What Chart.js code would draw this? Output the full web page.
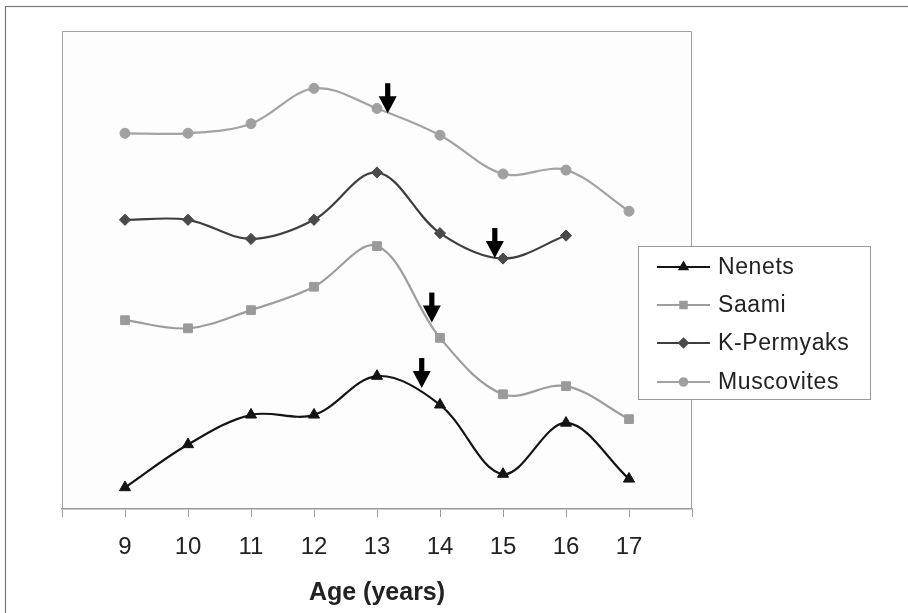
<!DOCTYPE html>
<html>
<head>
<meta charset="utf-8">
<script src="https://cdn.jsdelivr.net/npm/chart.js@4/dist/chart.umd.min.js"></script>
<style>
  html, body { margin: 0; padding: 0; background: #fff; }
  #c { display: block; }
</style>
</head>
<body>
<canvas id="c" width="908" height="613"></canvas>
<script>
// Ages on the horizontal axis
const ages = [9, 10, 11, 12, 13, 14, 15, 16, 17];
// Group curves (relative units, no vertical scale shown)
const nenets     = [4.5, 13.5, 19.7, 19.7, 27.8, 21.8, 7.3, 18.0, 6.3];
const saami      = [39.5, 37.8, 41.6, 46.5, 55.0, 35.8, 24.0, 25.7, 18.8];
const kPermyaks  = [60.5, 60.5, 56.5, 60.5, 70.4, 57.7, 52.4, 57.2, null];
const muscovites = [78.6, 78.6, 80.6, 88.0, 83.8, 78.2, 70.1, 70.9, 62.3];
const seriesNames = ['Nenets', 'Saami', 'K-Permyaks', 'Muscovites'];
// Down arrows: age where each arrow points, and the curve value at its tip
const arrowAges = [13.71, 13.87, 14.87, 13.17];
const arrowTips = [25.3, 39.0, 52.5, 82.8];
// Axis range
const ageMin = 8, ageMax = 18;
const valueMin = 0, valueMax = 100;

const FONT = "'Liberation Sans', Arial, sans-serif";

const styles = [
  { line: '#141414', point: '#141414', shape: 'triangle', r: 6.4, lr: 4.6 },
  { line: '#9d9d9d', point: '#9a9a9a', shape: 'rect',     r: 6.2, lr: 4.6 },
  { line: '#3e3e3e', point: '#4a4a4a', shape: 'rectRot',  r: 5.6, lr: 4.4 },
  { line: '#a3a3a3', point: '#a0a0a0', shape: 'circle',   r: 5.0, lr: 3.8 }
];
const seriesValues = [nenets, saami, kPermyaks, muscovites];

const datasets = seriesValues.map((vals, i) => ({
  label: seriesNames[i],
  data: ages.map((a, k) => ({ x: a, y: vals[k] })).filter(p => p.y !== null),
  borderColor: styles[i].line,
  backgroundColor: styles[i].point,
  pointBackgroundColor: styles[i].point,
  pointBorderColor: styles[i].point,
  pointStyle: styles[i].shape,
  pointRadius: styles[i].r,
  pointBorderWidth: 1,
  borderWidth: 2.2,
  tension: 0.35,
  fill: false
}));

// Page frame and plot area
const framePlugin = {
  id: 'frame',
  beforeDraw(chart) {
    const { ctx, chartArea: a } = chart;
    ctx.save();
    ctx.fillStyle = '#ffffff';
    ctx.fillRect(0, 0, chart.width, chart.height);
    ctx.strokeStyle = '#7a7a7a';
    ctx.lineWidth = 1.2;
    ctx.strokeRect(5.5, 6.5, chart.width + 20, chart.height + 20);
    ctx.fillStyle = '#fdfdfd';
    ctx.fillRect(a.left, a.top, a.right - a.left, a.bottom - a.top);
    ctx.restore();
  },
  beforeDatasetsDraw(chart) {
    const { ctx, chartArea: a } = chart;
    ctx.save();
    ctx.strokeStyle = '#a0a0a0';
    ctx.lineWidth = 1;
    ctx.beginPath();
    ctx.moveTo(a.left + 0.5, a.bottom);
    ctx.lineTo(a.left + 0.5, a.top + 0.5);
    ctx.lineTo(a.right - 0.5, a.top + 0.5);
    ctx.lineTo(a.right - 0.5, a.bottom);
    ctx.stroke();
    ctx.restore();
  }
};

// Black down arrows marking points on the curves
const arrowPlugin = {
  id: 'arrows',
  afterDatasetsDraw(chart) {
    const { ctx, scales: { x, y } } = chart;
    ctx.save();
    ctx.fillStyle = '#000';
    arrowAges.forEach((age, i) => {
      const px = x.getPixelForValue(age);
      const tip = y.getPixelForValue(arrowTips[i]);
      ctx.fillRect(px - 2.6, tip - 30, 5.2, 14);
      ctx.beginPath();
      ctx.moveTo(px - 9, tip - 17);
      ctx.lineTo(px + 9, tip - 17);
      ctx.lineTo(px, tip);
      ctx.closePath();
      ctx.fill();
    });
    ctx.restore();
  }
};

// Boxed legend with a line-and-marker sample per series
const legendPlugin = {
  id: 'boxLegend',
  afterDraw(chart) {
    const { ctx } = chart;
    const bx = 638, by = 246, bw = 232, bh = 153;
    const rowY = [267, 305, 343, 382];
    ctx.save();
    ctx.fillStyle = '#ffffff';
    ctx.fillRect(bx, by, bw, bh);
    ctx.strokeStyle = '#9a9a9a';
    ctx.lineWidth = 1;
    ctx.strokeRect(bx + 0.5, by + 0.5, bw, bh);
    chart.data.datasets.forEach((ds, i) => {
      const yy = rowY[i];
      ctx.strokeStyle = styles[i].line;
      ctx.lineWidth = 2;
      ctx.beginPath();
      ctx.moveTo(657, yy);
      ctx.lineTo(710, yy);
      ctx.stroke();
      ctx.fillStyle = styles[i].point;
      ctx.strokeStyle = styles[i].point;
      Chart.helpers.drawPoint(ctx, { pointStyle: styles[i].shape, radius: styles[i].lr, rotation: 0, borderWidth: 1 }, 683.5, yy);
      ctx.fillStyle = '#222';
      ctx.font = '23px ' + FONT;
      ctx.textBaseline = 'middle';
      ctx.textAlign = 'left';
      if ('letterSpacing' in ctx) ctx.letterSpacing = '0.6px';
      ctx.fillText(ds.label, 718, yy + 1);
    });
    ctx.restore();
  }
};

new Chart(document.getElementById('c'), {
  type: 'line',
  data: { datasets },
  options: {
    responsive: false,
    animation: false,
    devicePixelRatio: 1,
    layout: { padding: { left: 62, top: 31, right: 216, bottom: 0 } },
    plugins: {
      legend: { display: false },
      tooltip: { enabled: false }
    },
    scales: {
      x: {
        type: 'linear',
        position: 'bottom',
        min: ageMin,
        max: ageMax,
        afterFit(scale) { scale.height = 104; },
        ticks: {
          stepSize: 1,
          autoSkip: false,
          maxRotation: 0,
          padding: 16,
          color: '#222',
          font: { family: FONT, size: 24 },
          callback: v => (v === ageMin || v === ageMax) ? '' : String(v)
        },
        grid: {
          drawOnChartArea: false,
          drawTicks: true,
          tickLength: 8,
          color: '#9a9a9a',
          lineWidth: 1
        },
        border: { display: true, color: '#9a9a9a', width: 1.5 },
        title: {
          display: true,
          text: 'Age (years)',
          color: '#222',
          font: { family: FONT, size: 25, weight: 'bold' },
          padding: { top: 0, bottom: 5 }
        }
      },
      y: {
        display: false,
        min: valueMin,
        max: valueMax
      }
    }
  },
  plugins: [framePlugin, arrowPlugin, legendPlugin]
});
</script>
</body>
</html>
